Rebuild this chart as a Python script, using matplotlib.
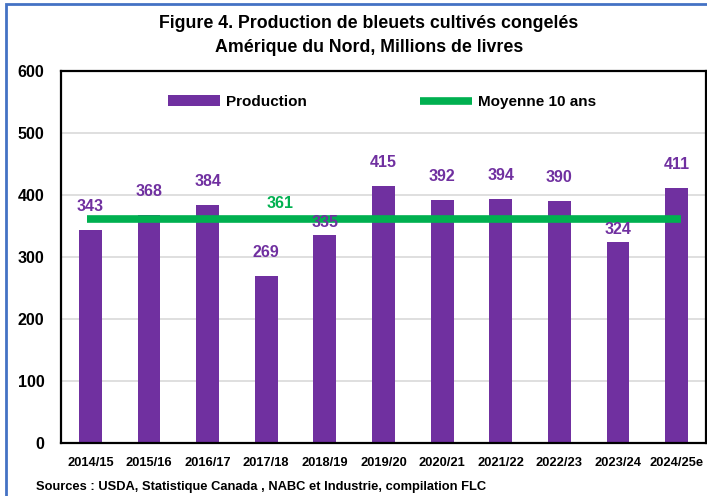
import matplotlib.pyplot as plt
from matplotlib.patches import Rectangle
import numpy as np

plt.rcParams['font.family'] = ['Liberation Sans Narrow', 'Liberation Sans', 'DejaVu Sans']
plt.rcParams['font.weight'] = 'bold'

# Données
saisons = ['2014/15', '2015/16', '2016/17', '2017/18', '2018/19', '2019/20',
           '2020/21', '2021/22', '2022/23', '2023/24', '2024/25e']
production = [343, 368, 384, 269, 335, 415, 392, 394, 390, 324, 411]
moyenne = 361

violet = '#7030A0'
vert = '#00B050'

W, H = 707, 496
fig = plt.figure(figsize=(W / 100, H / 100), dpi=100)
ax = fig.add_axes([61 / W, (H - 443) / H, 645 / W, 372 / H])

x = np.arange(len(saisons))
barres = ax.bar(x, production, width=0.39, color=violet, zorder=2)
ligne, = ax.plot([x[0] - 0.05, x[-1] + 0.08], [moyenne, moyenne], color=vert, lw=5.5,
                 zorder=3, solid_capstyle='butt')

# Étiquettes des barres (celles qui touchent la moyenne sont plus basses)
for xi, v in zip(x, production):
    dy = 9 if v in (335, 324) else 17
    ax.annotate(str(v), (xi, v), xytext=(0, dy), textcoords='offset points',
                ha='center', va='center', color=violet, fontsize=11.5, zorder=4)
ax.annotate(str(moyenne), (3.23, moyenne), xytext=(0, 11), textcoords='offset points',
            ha='center', va='center', color=vert, fontsize=11.5)

ax.set_xlim(-0.5, len(saisons) - 0.5)
ax.set_ylim(0, 600)
ax.set_yticks(range(0, 601, 100))
ax.set_xticks(x)
ax.set_xticklabels(saisons, fontsize=9.3)
ax.tick_params(axis='y', labelsize=11.5, length=0, pad=12)
ax.tick_params(axis='x', length=0, pad=10)
ax.grid(axis='y', color='#D9D9D9', lw=1.2, zorder=0)
for s in ax.spines.values():
    s.set_linewidth(1.6)
    s.set_color('black')

ax.legend([barres, ligne], ['Production', 'Moyenne 10 ans'], loc='center',
          bbox_to_anchor=(0.498, 0.917), ncol=2, frameon=False, fontsize=11,
          handlelength=3.4, columnspacing=7.4, handletextpad=0.4)

fig.text(369 / W, 1 - 23 / H, 'Figure 4. Production de bleuets cultivés congelés',
         ha='center', va='center', fontsize=12.8)
fig.text(369 / W, 1 - 48 / H, 'Amérique du Nord, Millions de livres',
         ha='center', va='center', fontsize=12.8)
fig.text(36 / W, 1 - 487 / H, 'Sources : USDA, Statistique Canada , NABC et Industrie, compilation FLC',
         ha='left', va='center', fontsize=9.3)

# cadre bleu autour du graphique
fig.patches.append(Rectangle((6 / W, -0.02), 1.0, 1 - 4 / H + 0.02, transform=fig.transFigure,
                             fill=False, edgecolor='#4472C4', lw=2))

fig.savefig('out.png', dpi=100)
